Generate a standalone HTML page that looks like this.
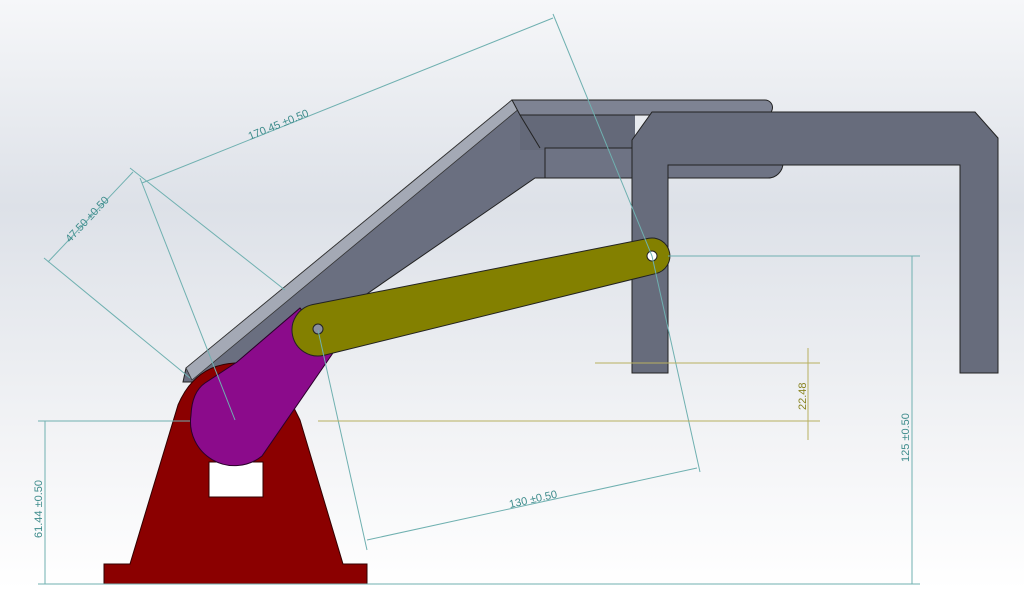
<!DOCTYPE html>
<html><head><meta charset="utf-8"><style>
html,body{margin:0;padding:0;width:1024px;height:590px;overflow:hidden}
svg{display:block}
text{font-family:"Liberation Sans",sans-serif;font-size:11px}
</style></head><body>
<svg width="1024" height="590" viewBox="0 0 1024 590">
<defs>
<linearGradient id="bg" x1="0" y1="0" x2="0" y2="1">
<stop offset="0" stop-color="#f6f7f9"/><stop offset="0.35" stop-color="#dde1e8"/><stop offset="0.75" stop-color="#f3f4f6"/><stop offset="1" stop-color="#ffffff"/>
</linearGradient>
</defs>
<rect width="1024" height="590" fill="url(#bg)"/>

<!-- gray arm -->
<polygon points="183,382 186,368 512,100 522,100 522,140 540,148 770,148 776,162 770,178 535,178 300,340 200,382" fill="#6a6f80" stroke="#222" stroke-width="1"/>
<rect x="520" y="112" width="115" height="38" fill="#646979"/>
<polygon points="186,368 512,100 520,108 192,380" fill="#a4a9b5" stroke="#333" stroke-width="0.8"/>
<path d="M512,100 L765,100 A7,7 0 0 1 765,115 L520,115 Z" fill="#7e8393" stroke="#222" stroke-width="1"/>
<path d="M545,148 L768,148 A15,15 0 0 1 768,178 L545,178 Z" fill="#6e7384" stroke="#222" stroke-width="1"/>
<line x1="520" y1="115" x2="540" y2="148" stroke="#222"/>

<!-- gripper C -->
<path d="M632,140 L652,112 L975,112 L998,138 L998,373 L960,373 L960,165 L668,165 L668,373 L632,373 Z" fill="#676c7c" stroke="#222" stroke-width="1"/>

<!-- red base -->
<path d="M104,564 L130,564 L178,405 Q195,365 235,363 L280,380 L300,420 L343,564 L367,564 L367,584 L104,584 Z" fill="#8b0000" stroke="#300" stroke-width="1"/>
<rect x="209" y="462" width="54" height="35" fill="#ffffff" stroke="#300"/>

<!-- purple -->
<path d="M191,415 Q192,392 205,383 L237,362 L300,308 L335,350 L262,456 A44,44 0 0 1 191,415 Z" fill="#8b0b8b" stroke="#2a002a" stroke-width="1"/>

<!-- yellow link -->
<g transform="translate(318,330) rotate(-12.5)">
<path d="M0,-26 L342,-18 A18,18 0 0 1 342,18 L0,26 A26,26 0 0 1 0,-26 Z" fill="#838000" stroke="#222" stroke-width="1"/>
</g>
<circle cx="318" cy="329" r="5" fill="#8a8fa0" stroke="#222"/>
<circle cx="652" cy="256" r="5" fill="#fff" stroke="#222"/>

<!-- dimension lines -->
<g stroke="#6fb0b0" stroke-width="1" fill="none">
<line x1="142" y1="183" x2="553" y2="18"/>
<polyline points="553,14 652,256 700,472"/>
<line x1="140" y1="178" x2="235" y2="420"/>
<line x1="318" y1="330" x2="367" y2="550"/>
<line x1="367" y1="540" x2="697" y2="468"/>
<line x1="48" y1="262" x2="133" y2="172"/>
<line x1="44" y1="258" x2="190" y2="378"/>
<line x1="130" y1="168" x2="285" y2="290"/>
<line x1="38" y1="421" x2="190" y2="421"/>
<line x1="45" y1="421" x2="45" y2="584"/>
<line x1="38" y1="584" x2="920" y2="584"/>
<line x1="668" y1="256" x2="920" y2="256"/>
<line x1="912" y1="256" x2="912" y2="584"/>
</g>
<g stroke="#b8b060" stroke-width="1">
<line x1="595" y1="363" x2="820" y2="363"/>
<line x1="318" y1="421" x2="820" y2="421"/>
<line x1="808" y1="348" x2="808" y2="440"/>
</g>

<g fill="#3e8c8c">
<text transform="translate(250,140) rotate(-22)">170.45 ±0.50</text>
<text transform="translate(70,243) rotate(-47)">47.50 ±0.50</text>
<text transform="translate(510,508) rotate(-12.5)">130 ±0.50</text>
<text transform="translate(42,538) rotate(-90)">61.44 ±0.50</text>
<text transform="translate(909,462) rotate(-90)">125 ±0.50</text>
</g>
<text transform="translate(806,410) rotate(-90)" fill="#8a8420">22.48</text>
</svg>
</body></html>
